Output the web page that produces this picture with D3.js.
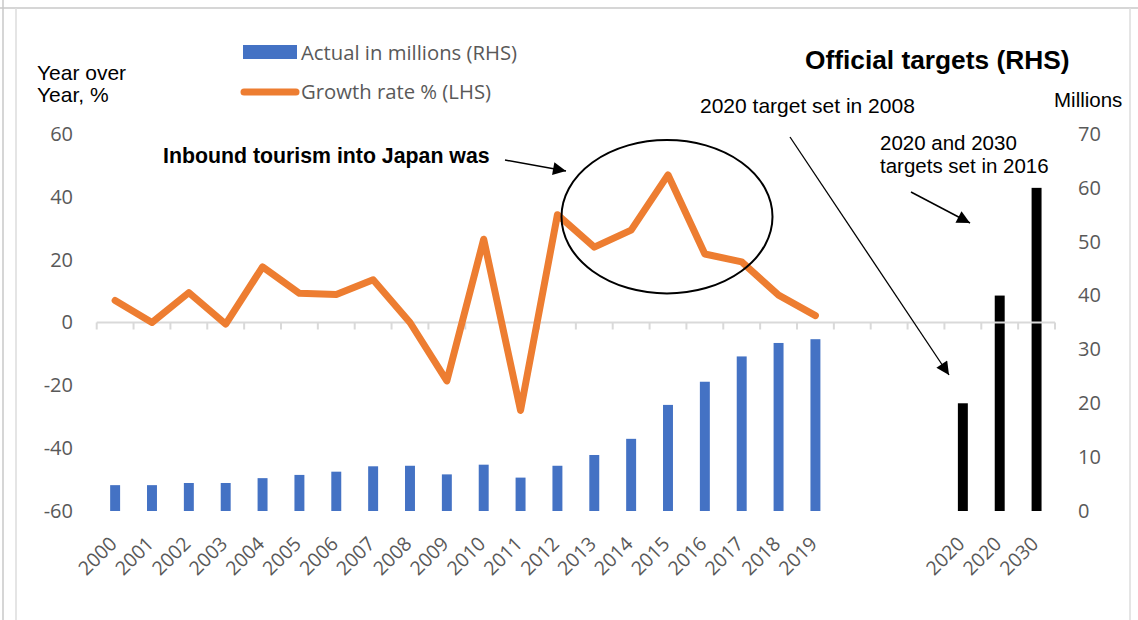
<!DOCTYPE html>
<html>
<head>
<meta charset="utf-8">
<script src="https://cdn.jsdelivr.net/npm/d3@7/dist/d3.min.js"></script>
<style>
  html, body { margin: 0; padding: 0; background: #fff; }
  svg { display: block; }
</style>
</head>
<body>
<script>
// Inbound visitors to Japan, 2000-2019, plus official targets
const years = ["2000","2001","2002","2003","2004","2005","2006","2007","2008","2009",
               "2010","2011","2012","2013","2014","2015","2016","2017","2018","2019"];
const growthPct = [7.0, 0.0, 9.5, -0.5, 17.7, 9.3, 8.9, 13.6, 0.0, -18.6,
                   26.5, -28.0, 34.3, 24.0, 29.4, 47.0, 21.8, 19.3, 8.7, 2.2];
const actualMillions = [4.8, 4.8, 5.2, 5.2, 6.1, 6.7, 7.3, 8.3, 8.4, 6.8,
                        8.6, 6.2, 8.4, 10.4, 13.4, 19.7, 24.0, 28.7, 31.2, 31.9];
const targetKeys = ["t2020a", "t2020b", "t2030"];
const targetLabels = ["2020", "2020", "2030"];
const targetMillions = [20, 40, 60];
const gapKeys = ["gap1", "gap2", "gap3"];
const leftTicks = [-60, -40, -20, 0, 20, 40, 60];
const rightTicks = [0, 10, 20, 30, 40, 50, 60, 70];

const W = 1138, H = 620;
const svg = d3.select("body").append("svg").attr("width", W).attr("height", H);

const defs = svg.append("defs");
defs.append("marker")
  .attr("id", "arrowHead")
  .attr("viewBox", "0 0 10 10")
  .attr("refX", 10).attr("refY", 5)
  .attr("markerWidth", 16).attr("markerHeight", 13)
  .attr("markerUnits", "userSpaceOnUse")
  .attr("orient", "auto")
  .append("path").attr("d", "M0,0 L10,5 L0,10 Z").attr("fill", "#000");

// frame
svg.append("line").attr("x1", 3).attr("x2", 3).attr("y1", 0).attr("y2", H).attr("stroke", "#c8c8c8").attr("stroke-width", 1.5);
svg.append("line").attr("x1", 0).attr("x2", W).attr("y1", 8).attr("y2", 8).attr("stroke", "#c8c8c8").attr("stroke-width", 1.5);
svg.append("line").attr("x1", 16).attr("x2", 16).attr("y1", 8).attr("y2", H).attr("stroke", "#dcdcdc").attr("stroke-width", 1.5);
svg.append("line").attr("x1", 1130).attr("x2", 1130).attr("y1", 8).attr("y2", H).attr("stroke", "#dcdcdc").attr("stroke-width", 1.5);

// scales
const categories = years.concat(gapKeys, targetKeys);
const x = d3.scaleBand().domain(categories).range([96.7, 1055]).paddingInner(0.73).paddingOuter(0.365);
const yL = d3.scaleLinear().domain([-60, 60]).range([511, 134]);
const yR = d3.scaleLinear().domain([0, 70]).range([511, 134]);

const tickFont = "'Open Sans', sans-serif";
const grey = "#595959";
const plainNum = (d) => String(d);

// left axis labels
const leftAxis = d3.axisLeft(yL).tickValues(leftTicks).tickFormat(plainNum).tickSize(0).tickPadding(0);
const gl = svg.append("g").attr("transform", "translate(73,0)").call(leftAxis);
gl.select(".domain").remove();
gl.selectAll("text").attr("font-family", tickFont).attr("font-size", 20).attr("fill", grey);

// right axis labels
const rightAxis = d3.axisRight(yR).tickValues(rightTicks).tickFormat(plainNum).tickSize(0).tickPadding(0);
const gr = svg.append("g").attr("transform", "translate(1078,0)").call(rightAxis);
gr.select(".domain").remove();
gr.selectAll("text").attr("font-family", tickFont).attr("font-size", 20).attr("fill", grey);

// actual arrivals bars (RHS)
svg.append("g").selectAll("rect").data(years).join("rect")
  .attr("x", (d) => x(d))
  .attr("width", x.bandwidth())
  .attr("y", (d, i) => yR(actualMillions[i]))
  .attr("height", (d, i) => yR(0) - yR(actualMillions[i]))
  .attr("fill", "#4472C4");

// official target bars (RHS)
svg.append("g").selectAll("rect").data(targetKeys).join("rect")
  .attr("x", (d) => x(d))
  .attr("width", x.bandwidth())
  .attr("y", (d, i) => yR(targetMillions[i]))
  .attr("height", (d, i) => yR(0) - yR(targetMillions[i]))
  .attr("fill", "#000");

// category axis at zero growth, ticks between categories
const r0 = x.range()[0], r1 = x.range()[1];
const tickPos = d3.range(categories.length + 1).map((i) => r0 + i * (r1 - r0) / categories.length);
const ax = svg.append("g").attr("stroke", "#d9d9d9").attr("stroke-width", 2);
ax.append("line").attr("x1", r0).attr("x2", r1).attr("y1", yL(0)).attr("y2", yL(0));
ax.selectAll("line.tk").data(tickPos).join("line").attr("class", "tk")
  .attr("x1", (d) => d).attr("x2", (d) => d)
  .attr("y1", yL(0)).attr("y2", yL(0) + 7);

// category labels along the bottom
const labelOf = {};
years.forEach((y) => labelOf[y] = y);
targetKeys.forEach((k, i) => labelOf[k] = targetLabels[i]);
svg.append("g").selectAll("text").data(years.concat(targetKeys)).join("text")
  .attr("transform", (d) => `translate(${x(d) + x.bandwidth() / 2 + 3},545) rotate(-45)`)
  .attr("text-anchor", "end")
  .attr("font-family", tickFont).attr("font-size", 19.5).attr("fill", grey)
  .text((d) => labelOf[d]);

// growth rate line (LHS)
const line = d3.line()
  .x((d, i) => x(years[i]) + x.bandwidth() / 2)
  .y((d) => yL(d));
svg.append("path").datum(growthPct)
  .attr("d", line)
  .attr("fill", "none")
  .attr("stroke", "#ED7D31")
  .attr("stroke-width", 7)
  .attr("stroke-linejoin", "round")
  .attr("stroke-linecap", "round");

// legend
const lg = svg.append("g");
lg.append("rect").attr("x", 243).attr("y", 45).attr("width", 54).attr("height", 14).attr("fill", "#4472C4");
lg.append("text").attr("x", 301).attr("y", 60).attr("font-family", tickFont).attr("font-size", 20.3).attr("fill", grey)
  .text("Actual in millions (RHS)");
lg.append("line").attr("x1", 244).attr("x2", 296).attr("y1", 92).attr("y2", 92)
  .attr("stroke", "#ED7D31").attr("stroke-width", 7).attr("stroke-linecap", "round");
lg.append("text").attr("x", 301).attr("y", 99).attr("font-family", tickFont).attr("font-size", 20.3).attr("fill", grey)
  .text("Growth rate % (LHS)");

// axis titles
const sans = "'Liberation Sans', Arial, sans-serif";
svg.append("text").attr("x", 37).attr("y", 80).attr("font-family", sans).attr("font-size", 21).attr("fill", "#000").text("Year over");
svg.append("text").attr("x", 37).attr("y", 102).attr("font-family", sans).attr("font-size", 21).attr("fill", "#000").text("Year, %");
svg.append("text").attr("x", 1054).attr("y", 107).attr("font-family", sans).attr("font-size", 20.5).attr("fill", "#000").text("Millions");

// annotations
svg.append("text").attr("x", 805).attr("y", 69).attr("font-family", sans).attr("font-weight", "bold")
  .attr("font-size", 26.3).attr("fill", "#000").text("Official targets (RHS)");
svg.append("text").attr("x", 163).attr("y", 163).attr("font-family", sans).attr("font-weight", "bold")
  .attr("font-size", 21.3).attr("fill", "#000").text("Inbound tourism into Japan was");
svg.append("text").attr("x", 700).attr("y", 113).attr("font-family", sans)
  .attr("font-size", 21).attr("fill", "#000").text("2020 target set in 2008");
svg.append("text").attr("x", 880).attr("y", 150).attr("font-family", sans)
  .attr("font-size", 20.5).attr("fill", "#000").text("2020 and 2030");
svg.append("text").attr("x", 880).attr("y", 173).attr("font-family", sans)
  .attr("font-size", 20.5).attr("fill", "#000").text("targets set in 2016");

svg.append("ellipse").attr("cx", 667).attr("cy", 216.7).attr("rx", 105.5).attr("ry", 76.7)
  .attr("fill", "none").attr("stroke", "#000").attr("stroke-width", 2);

const arrows = [
  [505, 160, 566, 171, 1.5],
  [790, 137, 949, 375, 1.3],
  [911, 192, 970, 223, 1.5]
];
svg.append("g").selectAll("line").data(arrows).join("line")
  .attr("x1", (d) => d[0]).attr("y1", (d) => d[1])
  .attr("x2", (d) => d[2]).attr("y2", (d) => d[3])
  .attr("stroke", "#000").attr("stroke-width", (d) => d[4])
  .attr("marker-end", "url(#arrowHead)");
</script>
</body>
</html>
